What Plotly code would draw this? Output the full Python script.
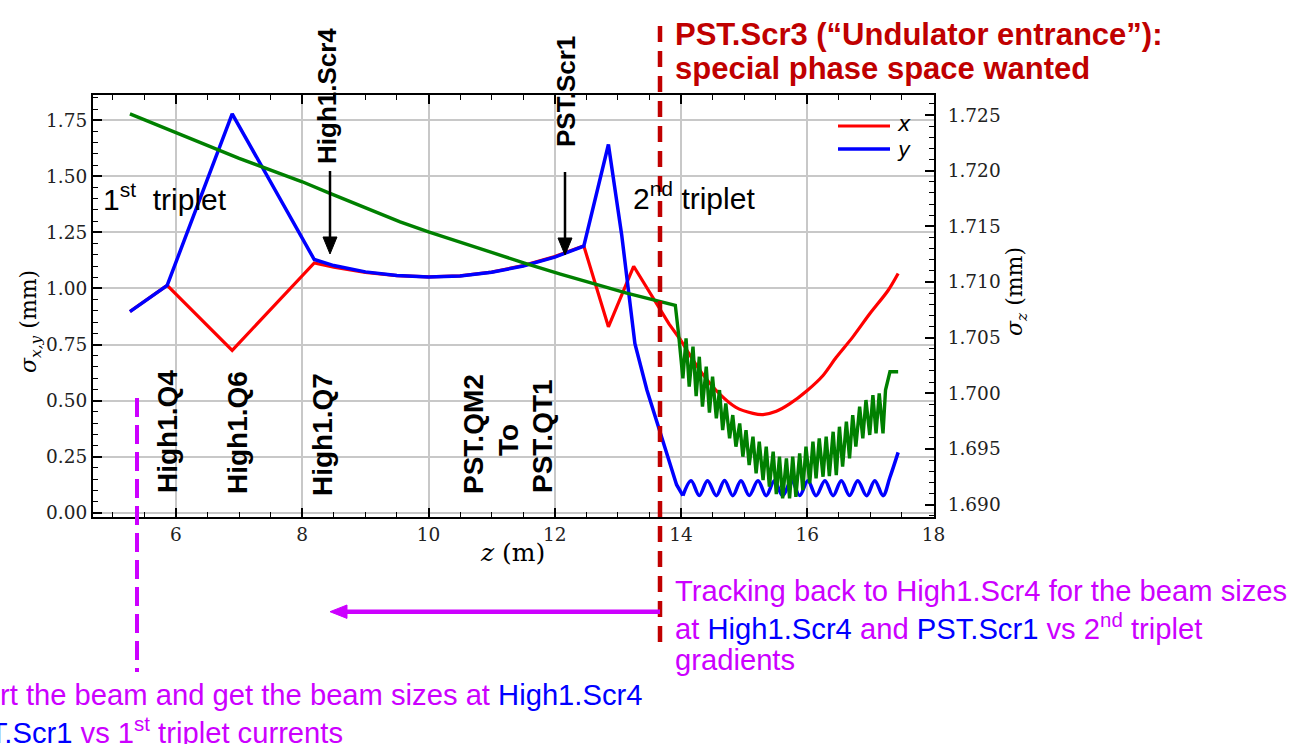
import plotly.graph_objects as go

# ---------------------------------------------------------------------------
# Beam sizes along the beamline (z in m, sizes in mm)
# ---------------------------------------------------------------------------
z_x = [5.27, 5.86, 6.89, 8.19, 8.5, 9.0, 9.5, 10.0, 10.5, 11.0, 11.5, 12.0, 12.46,
       12.85, 13.25, 13.81, 14.0, 14.13, 14.34, 14.61, 14.87, 15.14, 15.30, 15.51,
       15.72, 16.0, 16.25, 16.46, 16.72, 16.99, 17.28, 17.44]
sigma_x = [0.897, 1.014, 0.724, 1.114, 1.095, 1.072, 1.057, 1.052, 1.056, 1.073, 1.102, 1.142, 1.190,
           0.829, 1.099, 0.842, 0.768, 0.708, 0.619, 0.530, 0.470, 0.443, 0.4375, 0.452,
           0.485, 0.545, 0.612, 0.693, 0.783, 0.887, 0.991, 1.067]

# vertical size: transport section up to the undulator entrance
z_y_line = [5.27, 5.86, 6.89, 8.19, 8.5, 9.0, 9.5, 10.0, 10.5, 11.0, 11.5, 12.0, 12.46,
            12.85, 13.06, 13.17, 13.27, 13.46, 13.67, 13.83, 13.93, 14.03]
sigma_y_line = [0.897, 1.014, 1.779, 1.129, 1.102, 1.074, 1.058, 1.051, 1.056, 1.072, 1.100, 1.140, 1.189,
                1.642, 1.240, 0.977, 0.754, 0.547, 0.354, 0.205, 0.125, 0.076]
# vertical size inside the undulator (focusing oscillation)
z_y_und = [14.03, 14.16, 14.29, 14.42, 14.56, 14.69, 14.82, 14.95, 15.08, 15.22, 15.35, 15.48,
           15.61, 15.75, 15.88, 16.01, 16.14, 16.28, 16.41, 16.54, 16.67, 16.80, 16.94, 17.07,
           17.20, 17.31, 17.44]
sigma_y_und = [0.076, 0.143, 0.077, 0.143, 0.076, 0.144, 0.076, 0.143, 0.077, 0.143, 0.076, 0.143,
               0.076, 0.144, 0.077, 0.143, 0.076, 0.143, 0.076, 0.143, 0.077, 0.143, 0.076, 0.143,
               0.076, 0.158, 0.269]

# bunch length (right axis)
z_z_line = [5.27, 6.0, 7.0, 8.0, 8.42, 9.55, 10.0, 11.52, 12.09, 13.14, 13.91, 13.96]
sigma_z_line = [1.7251, 1.7234, 1.7211, 1.7190, 1.7180, 1.7154, 1.7145, 1.7117, 1.7107, 1.7090,
                1.7079, 1.7054]
z_z_trough = [14.03, 14.13, 14.24, 14.34, 14.45, 14.56, 14.66, 14.77, 14.87, 14.98, 15.08,
              15.19, 15.30, 15.40, 15.51, 15.61, 15.72, 15.82, 15.93, 16.04, 16.14, 16.25,
              16.35, 16.46, 16.56, 16.67, 16.77, 16.88, 16.99, 17.09, 17.20]
sigma_z_trough = [1.70134, 1.70059, 1.69975, 1.69879, 1.69825, 1.69774, 1.69669, 1.69595, 1.69520,
                  1.69430, 1.69355, 1.69280, 1.69220, 1.69160, 1.69094, 1.69055, 1.69055, 1.69070,
                  1.69130, 1.69190, 1.69235, 1.69250, 1.69256, 1.69265, 1.69340, 1.69415, 1.69520,
                  1.69595, 1.69625, 1.69640, 1.69640]
z_z_crest = [14.08, 14.19, 14.29, 14.40, 14.50, 14.61, 14.71, 14.82, 14.93, 15.03, 15.14,
             15.24, 15.35, 15.46, 15.56, 15.67, 15.77, 15.88, 15.98, 16.09, 16.19, 16.30,
             16.41, 16.51, 16.62, 16.72, 16.83, 16.93, 17.04, 17.14]
sigma_z_crest = [1.70493, 1.70418, 1.70328, 1.70239, 1.70149, 1.70029, 1.69909, 1.69804, 1.69729,
                 1.69669, 1.69610, 1.69565, 1.69520, 1.69475, 1.69430, 1.69415, 1.69430, 1.69460,
                 1.69520, 1.69565, 1.69595, 1.69610, 1.69654, 1.69699, 1.69744, 1.69804, 1.69879,
                 1.69939, 1.69984, 1.69999]
z_z_tail = [17.24, 17.31, 17.44]
sigma_z_tail = [1.70029, 1.70193, 1.70193]

# axis settings
x_range = [4.685, 18.008]
y_range = [-0.0192, 1.8628]
y2_range = [1.68888, 1.72680]

# assemble bunch-length trace: smooth part, then alternating troughs / crests, then tail
gz, gs = list(z_z_line), list(sigma_z_line)
for i in range(len(z_z_trough)):
    gz.append(z_z_trough[i]); gs.append(sigma_z_trough[i])
    if i < len(z_z_crest):
        gz.append(z_z_crest[i]); gs.append(sigma_z_crest[i])
gz += z_z_tail
gs += sigma_z_tail

# horizontal size: split at the undulator entrance (smooth curve inside)
k_und = z_x.index(14.0)

RED, BLUE, GREEN = "#ff0000", "#0000ff", "#008000"
DARKRED, MAGENTA, TXTBLUE = "#c00000", "#cc00ff", "#0000ff"
SANS = "Liberation Sans, Arial, sans-serif"
SERIF = "DejaVu Serif, serif"

fig = go.Figure()
fig.add_trace(go.Scatter(x=z_x[:k_und + 1], y=sigma_x[:k_und + 1], mode="lines",
                         line=dict(color=RED, width=3.2), showlegend=False))
fig.add_trace(go.Scatter(x=z_x[k_und:], y=sigma_x[k_und:], mode="lines",
                         line=dict(color=RED, width=3.2, shape="spline", smoothing=0.8),
                         showlegend=False))
fig.add_trace(go.Scatter(x=z_y_line, y=sigma_y_line, mode="lines", line=dict(color=BLUE, width=3.5),
                         showlegend=False))
fig.add_trace(go.Scatter(x=z_y_und, y=sigma_y_und, mode="lines",
                         line=dict(color=BLUE, width=3.5, shape="spline", smoothing=1.0),
                         showlegend=False))
fig.add_trace(go.Scatter(x=gz, y=gs, mode="lines", line=dict(color=GREEN, width=3.4),
                         yaxis="y2", showlegend=False))

# ---------------------------------------------------------------------------
# Layout in pixels -> paper coordinates
# ---------------------------------------------------------------------------
W, H = 1293, 744
L, R, T, B = 93, 934, 95, 517


def px(x):
    return (x - L) / (R - L)


def py(y):
    return (B - y) / (B - T)


shapes = []
annotations = []


def vline(x, y0, y1, color, width, dash=None):
    shapes.append(dict(type="line", xref="paper", yref="paper", x0=px(x), x1=px(x),
                       y0=py(y0), y1=py(y1), layer="above",
                       line=dict(color=color, width=width, dash=dash)))


def hline(x0, x1, y, color, width):
    shapes.append(dict(type="line", xref="paper", yref="paper", x0=px(x0), x1=px(x1),
                       y0=py(y), y1=py(y), layer="above", line=dict(color=color, width=width)))


def tri(p1, p2, p3, color):
    path = "M {:.5f},{:.5f} L {:.5f},{:.5f} L {:.5f},{:.5f} Z".format(
        px(p1[0]), py(p1[1]), px(p2[0]), py(p2[1]), px(p3[0]), py(p3[1]))
    shapes.append(dict(type="path", xref="paper", yref="paper", path=path, layer="above",
                       fillcolor=color, line=dict(color=color, width=1)))


def text(x, y, s, size, color="black", family=SANS, xanchor="left", yanchor="middle",
         angle=0):
    annotations.append(dict(x=px(x), y=py(y), xref="paper", yref="paper", text=s,
                            showarrow=False, xanchor=xanchor, yanchor=yanchor,
                            textangle=angle, font=dict(family=family, size=size, color=color)))


# screen arrows
vline(330, 171, 240, "black", 2.5)
tri((330, 254), (323, 237), (337, 237), "black")
vline(565, 172, 240, "black", 2.5)
tri((565, 255), (558, 238), (572, 238), "black")

# undulator entrance marker and tracking direction
vline(660, 26, 645, DARKRED, 4.5, dash="16px,9px")
vline(137, 398, 672, MAGENTA, 4, dash="19px,8px")
hline(345, 660, 611.7, MAGENTA, 4.5)
tri((330, 611.7), (347, 605), (347, 618.4), MAGENTA)

# legend
hline(838, 890, 126, RED, 3.2)
hline(838, 890, 149, BLUE, 3.5)
text(895, 124, "<i>x</i>", 21, family="DejaVu Sans, sans-serif")
text(895, 150, "<i>y</i>", 21, family="DejaVu Sans, sans-serif")

# axis titles
text(30, 322, "<i>σ</i><sub><i>x,y</i></sub> (mm)", 22, family=SERIF, xanchor="center", angle=-90)
text(512, 552, "<i>z</i> (m)", 25, family=SERIF, xanchor="center")
text(1016, 292, "<i>σ</i><sub><i>z</i></sub> (mm)", 22, family=SERIF, xanchor="center", angle=-90)

# triplet labels
text(101, 197, "1<sup>st</sup> \u00a0triplet", 30)
text(631, 196, "2<sup>nd</sup> triplet", 30)

# screens and magnets
text(327, 96, "<b>High1.Scr4</b>", 26, xanchor="center", angle=-90)
text(566, 92, "<b>PST.Scr1</b>", 26, xanchor="center", angle=-90)
text(167, 432, "<b>High1.Q4</b>", 28, xanchor="center", angle=-90)
text(237, 433, "<b>High1.Q6</b>", 28, xanchor="center", angle=-90)
text(322, 435, "<b>High1.Q7</b>", 28, xanchor="center", angle=-90)
text(473, 434, "<b>PST.QM2</b>", 28, xanchor="center", angle=-90)
text(508, 440, "<b>To</b>", 28, xanchor="center", angle=-90)
text(542, 436, "<b>PST.QT1</b>", 28, xanchor="center", angle=-90)

# headline
text(673, 34, "<b>PST.Scr3 (“Undulator entrance”):</b>", 31, color=DARKRED)
text(673, 69, "<b>special phase space wanted</b>", 31, color=DARKRED)

# tracking notes
blue = lambda s: '<span style="color:{}">{}</span>'.format(TXTBLUE, s)
text(673, 591, "Tracking back to High1.Scr4 for the beam sizes", 29.2, color=MAGENTA)
text(673, 626, "at " + blue("High1.Scr4") + " and " + blue("PST.Scr1") +
     " vs 2<sup>nd</sup> triplet", 29.2, color=MAGENTA)
text(673, 660, "gradients", 29.2, color=MAGENTA)
text(-108, 695, "Transport the beam and get the beam sizes at " + blue("High1.Scr4"), 29.2,
     color=MAGENTA)
text(-108, 730, "and " + blue("PST.Scr1") + " vs 1<sup>st</sup> triplet currents", 29.2,
     color=MAGENTA)

tickfont = dict(family=SERIF, size=18.5, color="#222222")
common = dict(ticks="inside", ticklen=9, tickwidth=1.5, tickcolor="black",
              showline=True, linewidth=2, linecolor="black", zeroline=False,
              tickfont=tickfont)

fig.update_layout(
    width=W, height=H,
    margin=dict(l=L, r=W - R, t=T, b=H - B, pad=0),
    paper_bgcolor="white", plot_bgcolor="white",
    showlegend=False,
    xaxis=dict(range=x_range, tickmode="linear", tick0=0, dtick=2, mirror="ticks",
               showgrid=True, gridcolor="#c8c8c8", gridwidth=1.5,
               minor=dict(tick0=0, dtick=0.5, ticks="inside", ticklen=5, tickwidth=1.2,
                          tickcolor="black", showgrid=False),
               **common),
    yaxis=dict(range=y_range, tickmode="linear", tick0=0, dtick=0.25, tickformat=".2f",
               showgrid=True, gridcolor="#c8c8c8", gridwidth=1.5,
               minor=dict(tick0=0, dtick=0.05, ticks="inside", ticklen=5, tickwidth=1.2,
                          tickcolor="black", showgrid=False),
               **common),
    yaxis2=dict(range=y2_range, overlaying="y", side="right", tickmode="linear",
                tick0=1.69, dtick=0.005, tickformat=".3f", showgrid=False,
                ticklabelstandoff=8,
                minor=dict(tick0=1.69, dtick=0.001, ticks="inside", ticklen=5, tickwidth=1.2,
                           tickcolor="black", showgrid=False),
                **common),
    shapes=shapes,
    annotations=annotations,
)

fig.write_html("out.html")
